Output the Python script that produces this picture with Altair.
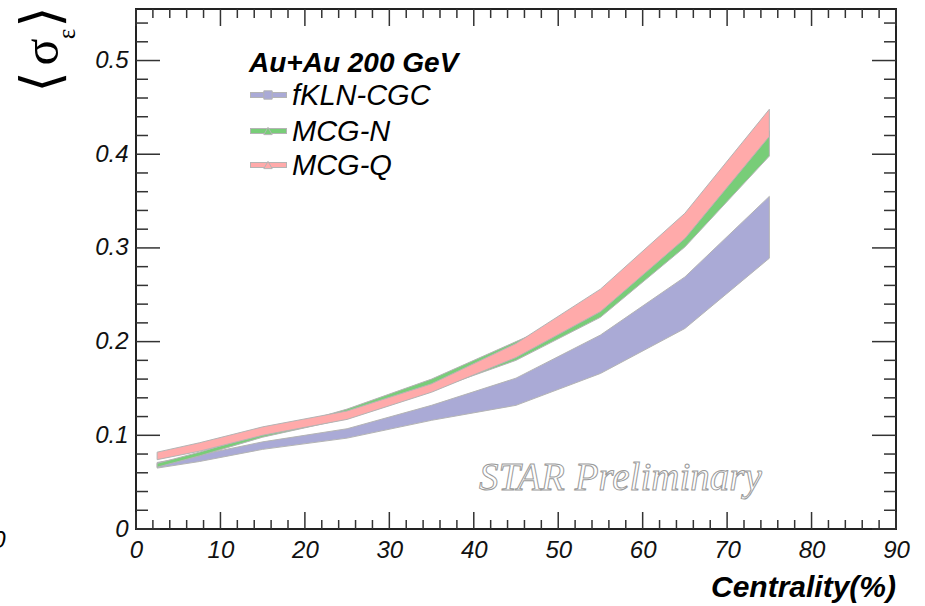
import altair as alt
import pandas as pd

# ---------------- data ----------------
centrality = [2.5, 7.5, 15, 25, 35, 45, 55, 65, 75]
fkln_lo = [0.065, 0.072, 0.085, 0.097, 0.116, 0.132, 0.166, 0.214, 0.289]
fkln_hi = [0.071, 0.079, 0.093, 0.107, 0.132, 0.161, 0.207, 0.269, 0.355]
mcgn_lo = [0.066, 0.078, 0.098, 0.118, 0.148, 0.180, 0.226, 0.301, 0.398]
mcgn_hi = [0.070, 0.082, 0.102, 0.128, 0.160, 0.200, 0.240, 0.320, 0.425]
mcgq_lo = [0.074, 0.083, 0.100, 0.117, 0.146, 0.183, 0.232, 0.310, 0.419]
mcgq_hi = [0.082, 0.092, 0.109, 0.126, 0.155, 0.198, 0.256, 0.337, 0.448]

models = ["fKLN-CGC", "MCG-N", "MCG-Q"]
colors = ["#aaaad6", "#78cd78", "#ffaaaa"]
markers = ["square", "triangle-up", "triangle-up"]
header = "Au+Au 200 GeV"
x_title = "Centrality(%)"
watermark = "STAR Preliminary"

x_labels = [0, 10, 20, 30, 40, 50, 60, 70, 80, 90]
y_labels = [0, 0.1, 0.2, 0.3, 0.4, 0.5]
x_minor = [v for v in range(0, 91, 2) if v % 10 != 0]
y_minor = [round(v * 0.02, 2) for v in range(0, 28) if v % 5 != 0]

W, H = 760, 520
XMAX, YMAX = 90, 0.555
OUT = "#b4b4b4"
TICK = "#333333"

xs = alt.Scale(domain=[0, XMAX], nice=False, zero=False)
ys = alt.Scale(domain=[0, YMAX], nice=False, zero=False)

rows = []
for m, lo, hi in [(models[0], fkln_lo, fkln_hi), (models[1], mcgn_lo, mcgn_hi), (models[2], mcgq_lo, mcgq_hi)]:
    for c, a, b in zip(centrality, lo, hi):
        rows.append({"model": m, "c": c, "lo": a, "hi": b})
bands = pd.DataFrame(rows)

layers = []

# axes (labels only)
axes = alt.Chart(pd.DataFrame({"c": [0.0], "v": [0.0]})).mark_point(opacity=0).encode(
    x=alt.X("c:Q", scale=xs, axis=alt.Axis(values=x_labels, ticks=False, domain=False, grid=False,
                                           title=None, labelPadding=9, labelFlush=False,
                                           labelOverlap=False, format="d")),
    y=alt.Y("v:Q", scale=ys, axis=alt.Axis(values=y_labels, ticks=False, domain=False, grid=False,
                                           title=None, labelPadding=8, labelOverlap=False,
                                           labelFlush=False, format=".1~f")),
)
layers.append(axes)

# bands
for m, col in zip(models, colors):
    layers.append(
        alt.Chart(bands).transform_filter(alt.datum.model == m).mark_area(
            fill=col, stroke=OUT, strokeWidth=1, interpolate="linear"
        ).encode(x=alt.X("c:Q", scale=xs), y=alt.Y("hi:Q", scale=ys), y2="lo:Q")
    )

# inward ticks
def xticks(vals, length):
    d = pd.DataFrame({"t": vals})
    bot = alt.Chart(d).mark_rule(color=TICK, strokeWidth=1.5).encode(
        x=alt.X("t:Q", scale=xs), y=alt.value(H), y2=alt.value(H - length))
    top = alt.Chart(d).mark_rule(color=TICK, strokeWidth=1.5).encode(
        x=alt.X("t:Q", scale=xs), y=alt.value(0), y2=alt.value(length))
    return [bot, top]

def yticks(vals, length):
    d = pd.DataFrame({"t": vals})
    left = alt.Chart(d).mark_rule(color=TICK, strokeWidth=1.5).encode(
        y=alt.Y("t:Q", scale=ys), x=alt.value(0), x2=alt.value(length))
    right = alt.Chart(d).mark_rule(color=TICK, strokeWidth=1.5).encode(
        y=alt.Y("t:Q", scale=ys), x=alt.value(W), x2=alt.value(W - length))
    return [left, right]

layers += xticks(x_labels, 17) + xticks(x_minor, 9)
layers += yticks(y_labels, 24) + yticks(y_minor, 12)

one = pd.DataFrame({"k": [0]})

# legend
layers.append(alt.Chart(one).mark_text(
    text=header, font="Liberation Sans", fontSize=28, fontWeight="bold", fontStyle="italic",
    align="left", baseline="middle", color="black").encode(x=alt.value(113), y=alt.value(55)))
leg_y = [86, 122, 156]
for m, col, mk, yy in zip(models, colors, markers, leg_y):
    layers.append(alt.Chart(one).mark_rule(color=OUT, strokeWidth=6).encode(
        x=alt.value(114), x2=alt.value(151), y=alt.value(yy)))
    layers.append(alt.Chart(one).mark_rule(color=col, strokeWidth=4).encode(
        x=alt.value(115), x2=alt.value(150), y=alt.value(yy)))
    layers.append(alt.Chart(one).mark_point(shape=mk, filled=True, fill=col, stroke=OUT,
                                            strokeWidth=1, size=70, opacity=1).encode(
        x=alt.value(132), y=alt.value(yy)))
    layers.append(alt.Chart(one).mark_text(
        text=m, font="Liberation Sans", fontSize=29, fontStyle="italic",
        align="left", baseline="middle", color="black").encode(x=alt.value(156), y=alt.value(yy + 1)))

# watermark
layers.append(alt.Chart(one).mark_text(
    text=watermark, font="Liberation Serif", fontSize=39, fontStyle="italic",
    align="left", baseline="alphabetic", fill="white", stroke="#9a9a9a", strokeWidth=1).encode(
    x=alt.value(343), y=alt.value(481)))

# x title
layers.append(alt.Chart(one).mark_text(
    text=x_title, font="Liberation Sans", fontSize=30, fontWeight="bold", fontStyle="italic",
    align="right", baseline="alphabetic", color="black").encode(x=alt.value(760), y=alt.value(588)))

# y title built from glyphs: < sigma_eps >
for txt, fnt, fs, xx, yy in [("\u27e8", "DejaVu Sans", 54, -93, 73),
                             ("\u03c3", "Liberation Serif", 50, -93, 43),
                             ("\u03b5", "Liberation Serif", 25, -69, 25),
                             ("\u27e9", "DejaVu Sans", 54, -93, 8)]:
    layers.append(alt.Chart(one).mark_text(
        text=txt, font=fnt, fontSize=fs, angle=270, align="center", baseline="middle",
        color="black").encode(x=alt.value(xx), y=alt.value(yy)))

# cut-off glyph at the left border
layers.append(alt.Chart(one).mark_text(
    text="0", font="Liberation Sans", fontSize=24, fontStyle="italic", align="center",
    baseline="middle", color="black").encode(x=alt.value(-137), y=alt.value(532)))

chart = alt.layer(*layers).properties(
    width=W, height=H,
    autosize=alt.AutoSizeParams(type="none"),
    padding={"left": 136, "top": 9, "right": 29, "bottom": 77},
    background="white",
).configure_view(stroke="#222222", strokeWidth=2).configure_axis(
    labelFont="Liberation Sans", labelFontStyle="italic", labelFontSize=24, labelColor="#111111"
)

chart.save("out.html", embed_options={"renderer": "svg", "actions": False})
